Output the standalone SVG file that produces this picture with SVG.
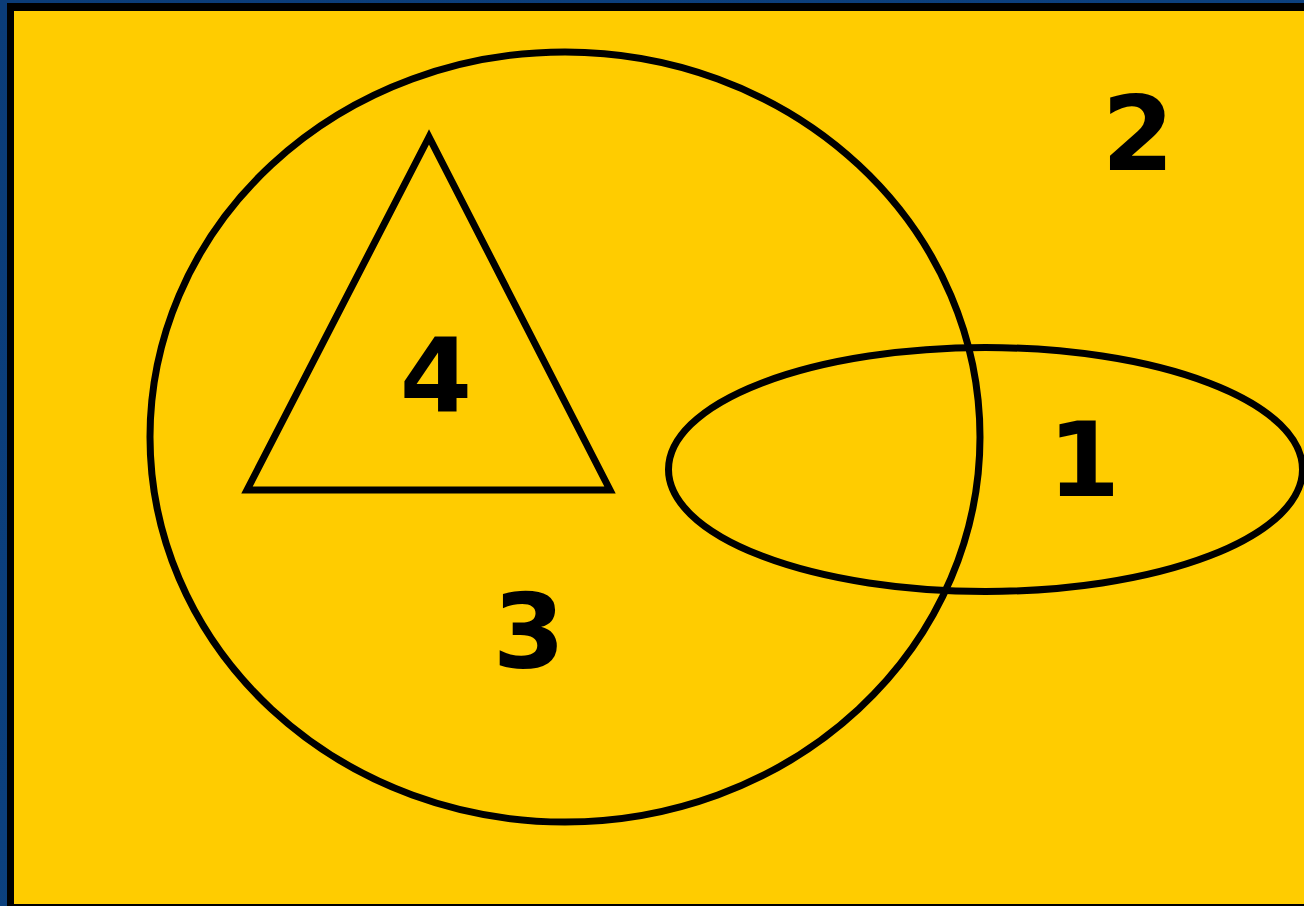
<svg xmlns="http://www.w3.org/2000/svg" width="1304" height="906" viewBox="0 0 1304 906">
<style>
.shape{fill:none;stroke:#000;stroke-width:7}
.lbl{font-family:"DejaVu Sans",sans-serif;font-weight:bold;font-size:104px;fill:#000;text-anchor:middle}
</style>
<defs>
<linearGradient id="bg" x1="0" y1="0" x2="1" y2="1">
<stop offset="0" stop-color="#0b3c78"/>
<stop offset="1" stop-color="#0d4585"/>
</linearGradient>
</defs>
<rect x="0" y="0" width="1304" height="906" fill="url(#bg)"/>
<rect x="7" y="3" width="1297" height="903" fill="#000"/>
<rect x="14" y="11" width="1290" height="893" fill="#ffcc00"/>
<g id="circle"><ellipse class="shape" cx="565" cy="437" rx="415" ry="385"/></g>
<g id="ellipse"><ellipse class="shape" cx="985.5" cy="469.5" rx="317" ry="122"/></g>
<g id="triangle"><polygon class="shape" points="429,137 247,490 610,490"/></g>
<g id="labels">
<text class="lbl" x="1138" y="170">2</text>
<text class="lbl" x="1084" y="496">1</text>
<text class="lbl" x="436" y="412">4</text>
<text class="lbl" x="529" y="668">3</text>
</g>
</svg>
